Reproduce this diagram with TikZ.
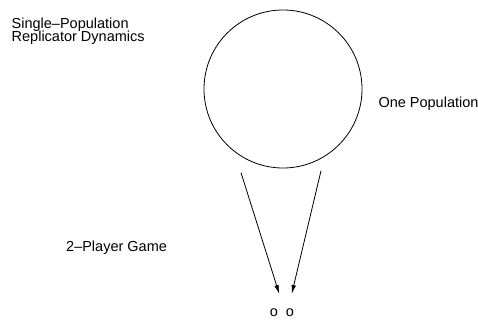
\documentclass[tikz,border=0pt]{standalone}
\usepackage{fontspec}
\setmainfont{Liberation Sans}
\usetikzlibrary{arrows.meta}
\tikzset{
  lbl/.style={inner sep=0pt, anchor=base west, font=\fontsize{14.5}{13.8}\selectfont, align=left},
  dot/.style={inner sep=0pt, anchor=base, font=\fontsize{14.5}{14}\selectfont},
  link/.style={line width=0.8pt, -{Latex[length=9pt,width=4.5pt]}}
}
\begin{document}
\begin{tikzpicture}[x=1pt, y=-1pt]
  \useasboundingbox (0,0) rectangle (478,320);
  % the population
  \node[draw, circle, line width=0.8pt, minimum size=158pt, inner sep=0pt] (pop) at (283,89) {};
  % labels (a two-line node sits on the baseline of its last line)
  \node[lbl] (title) at (11.5,42) {Single–Population\\Replicator Dynamics};
  \node[lbl] (onepop) at (378.3,108) {One Population};
  \node[lbl] (game) at (66,251.7) {2–Player Game};
  % players
  \node[dot] (p1) at (274,316.5) {o};
  \node[dot] (p2) at (290,316.5) {o};
  % arrow ends
  \coordinate (s1) at (241,172.7);
  \coordinate (s2) at (321,170.7);
  \coordinate (t1) at (279.3,294);
  \coordinate (t2) at (291.7,294);
  \draw[link] (s1) -- (t1);
  \draw[link] (s2) -- (t2);
\end{tikzpicture}
\end{document}
